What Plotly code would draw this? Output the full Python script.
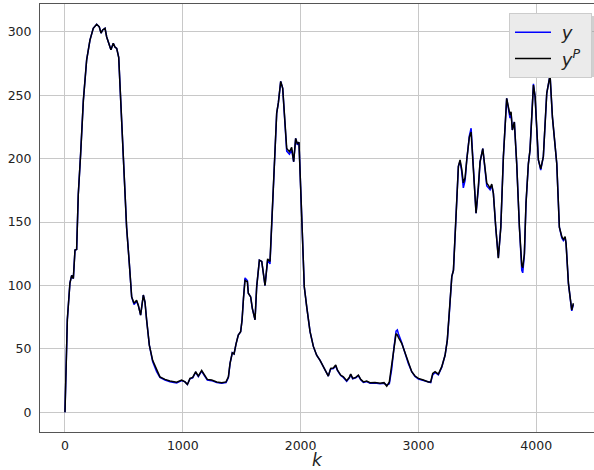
import plotly.graph_objects as go

k = [0, 10, 20, 42, 57, 71, 85, 99, 113, 133, 156, 184, 212, 240, 269, 291, 306, 320, 340, 354,
     374, 390, 410, 424, 439, 456, 473, 495, 523, 546, 566, 586, 608, 622, 642, 665, 679, 693,
     716, 744, 778, 806, 849, 891, 948, 990, 1019, 1039, 1061, 1084, 1109, 1132, 1160, 1183,
     1208, 1245, 1288, 1330, 1367, 1387, 1401, 1420, 1435, 1452, 1471, 1491, 1503, 1515, 1528,
     1548, 1556, 1576, 1590, 1613, 1627, 1650, 1670, 1698, 1720, 1740, 1754, 1783, 1797, 1811,
     1831, 1848, 1862, 1876, 1882, 1905, 1924, 1941, 1958, 1972, 1986, 2000, 2017, 2031, 2052,
     2080, 2108, 2136, 2165, 2193, 2221, 2235, 2255, 2278, 2298, 2312, 2340, 2363, 2391, 2414,
     2425, 2442, 2468, 2490, 2510, 2533, 2561, 2589, 2631, 2674, 2708, 2731, 2753, 2773, 2793,
     2810, 2821, 2830, 2858, 2886, 2914, 2943, 2971, 3000, 3042, 3084, 3104, 3121, 3141, 3169,
     3198, 3226, 3245, 3262, 3283, 3297, 3311, 3325, 3339, 3353, 3367, 3381, 3396, 3410, 3432,
     3447, 3466, 3489, 3509, 3523, 3546, 3565, 3580, 3594, 3608, 3622, 3636, 3656, 3678, 3699,
     3721, 3749, 3763, 3777, 3786, 3797, 3814, 3834, 3857, 3877, 3885, 3899, 3913, 3933, 3947,
     3962, 3976, 3990, 4018, 4038, 4060, 4089, 4103, 4117, 4137, 4174, 4196, 4217, 4230, 4245,
     4253, 4273, 4301, 4315]

y_p = [0, 40, 73, 102, 108, 105.5, 128, 128.5, 172, 204, 246, 278, 293.5, 302.8, 306, 304, 299,
       301.5, 302.8, 296, 289.7, 286, 291, 288, 287, 280, 246, 199, 146, 117.5, 91, 86, 88.5,
       84.5, 76.7, 92.5, 87, 72.8, 53, 41, 33, 28, 26, 24.7, 23.7, 25.5, 24, 22, 26.8, 27.6, 32,
       28.6, 33, 29.4, 26, 25.5, 24, 23.4, 24, 28, 38.6, 47, 46, 54, 61, 63.6, 72.8, 90, 104,
       103, 94, 91, 82, 73, 99, 120, 119, 100, 121, 119, 146, 212, 236, 244, 261, 255.5, 237,
       220, 208, 205.5, 209, 197.6, 216, 212, 213, 178, 130.6, 99, 83, 63.6, 52, 45, 41, 36,
       30.7, 28.6, 34.7, 35, 37.3, 33.4, 29.4, 28, 25, 27.6, 30.2, 26.8, 27.6, 29.4, 26, 24,
       24.7, 23.4, 23.6, 22.9, 23.4, 20.7, 24, 36, 51.7, 62, 61, 59, 54.4, 46.5, 38.6, 32, 28.6,
       26.8, 25.5, 24, 24, 30.7, 32, 30.2, 36, 45, 57, 78, 107, 112, 138.5, 175, 194, 199, 192,
       181, 185, 199, 217, 221, 194, 157, 179, 197.6, 208, 193.7, 180.6, 179, 176.7, 180,
       172.7, 146, 121.5, 146, 201.6, 247.6, 241, 234.5, 237, 222.6, 229, 196, 146, 116, 114,
       125, 165, 196, 207, 236, 258, 249, 199, 192, 201.6, 251.6, 259.5, 266, 233, 196, 146,
       138.5, 136.4, 138.5, 133, 101.7, 80.7, 86]

y = [0, 40, 73, 102, 108, 105.5, 128, 128.5, 172, 204, 246, 278, 293.5, 302.8, 306, 304, 299,
     301.5, 302.8, 296, 289.7, 286, 291, 288, 287, 280, 246, 199, 146, 117.5, 91, 85, 87.5,
     84.5, 76.7, 92.5, 87, 72.8, 53, 40, 32, 27.5, 25.5, 24.2, 23.2, 25, 24, 22, 26.5, 27.2, 31.5,
     28.2, 32.5, 29, 25.5, 25, 23.5, 23, 23.5, 27.5, 38.6, 47, 46, 54, 61, 63.6, 72.8, 90, 106,
     104, 94, 91, 82, 73, 99, 120, 119, 100, 120, 117, 146, 212, 236, 244, 261, 255.5, 237,
     220, 206, 203.5, 207, 197.6, 216, 211, 213, 178, 130.6, 99, 83, 63.6, 52, 45, 41, 36,
     30.7, 28.6, 34.2, 34.5, 36.8, 33, 29, 27.5, 24.5, 27.2, 29.8, 26.5, 27.2, 29, 25.6, 23.6,
     24.3, 23, 23.2, 22.5, 23, 21.5, 22.5, 34, 51.7, 64, 65, 62, 55, 46.5, 38.6, 32, 28.2,
     26.2, 25, 23.5, 23.5, 29.5, 31.5, 29.6, 35.5, 45, 57, 78, 107, 112, 138.5, 175, 194, 198, 190,
     177, 183, 199, 218, 224, 194, 157, 177, 197.6, 208, 193.7, 178.5, 177, 175.5, 179,
     172.7, 146, 122, 146, 201.6, 247.6, 240, 232, 236, 222.6, 229, 196, 146, 112, 110,
     124, 165, 196, 207, 236, 259, 249, 199, 191, 201.6, 251.6, 259.5, 266, 233, 196, 146,
     137.5, 135.5, 137.5, 133, 101.7, 80, 85]

x_ticks = [0, 1000, 2000, 3000, 4000]
y_ticks = [0, 50, 100, 150, 200, 250, 300]

fig = go.Figure()
fig.add_trace(go.Scatter(x=k, y=y, mode="lines", name="\u00a0<i>y</i>\u00a0",
                         line=dict(color="#0000ff", width=1.5)))
fig.add_trace(go.Scatter(x=k, y=y_p, mode="lines", name="\u00a0<i>y<sup>P</sup></i>\u00a0",
                         line=dict(color="#000000", width=1.5)))

axis_common = dict(showgrid=True, gridcolor="#c8c8c8", gridwidth=1, zeroline=False,
                   showline=True, linecolor="#555555", linewidth=1, mirror=True,
                   tickfont=dict(family="DejaVu Sans", size=12.5, color="#222222"))

fig.update_xaxes(range=[-212, 4490], tickvals=x_ticks,
                 ticks="outside", ticklen=2, tickcolor="rgba(0,0,0,0)",
                 title=dict(text="<i>k</i>", font=dict(family="DejaVu Sans", size=17, color="#222222"),
                            standoff=0),
                 **axis_common)
fig.update_yaxes(range=[-15.5, 322], tickvals=y_ticks,
                 ticks="outside", ticklen=5, tickcolor="rgba(0,0,0,0)", **axis_common)

# legend shadow
fig.add_shape(type="rect", xref="paper", yref="paper",
              x0=(513 - 40) / 554, x1=(595 - 40) / 554,
              y0=(432 - 77) / 428, y1=(432 - 16) / 428,
              fillcolor="rgba(150,150,150,0.45)", line=dict(width=0), layer="above")

fig.update_layout(
    width=594, height=470,
    margin=dict(l=40, r=0, t=4, b=38),
    plot_bgcolor="white", paper_bgcolor="white",
    font=dict(family="DejaVu Sans", color="#222222"),
    showlegend=True,
    legend=dict(x=(592 - 40) / 554, y=(432 - 13) / 428, xanchor="right", yanchor="top",
                bgcolor="#ebebeb", bordercolor="#cccccc", borderwidth=1,
                itemwidth=36,
                font=dict(family="DejaVu Sans", size=18, color="#222222")),
)

fig.write_html("out.html")
